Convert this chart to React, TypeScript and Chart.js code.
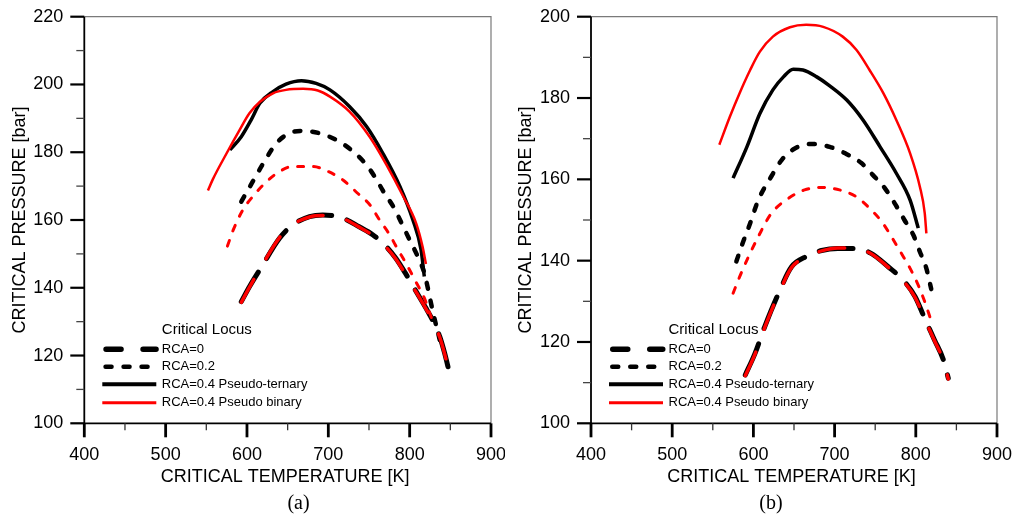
import React, { useEffect, useRef } from "react";
import { Chart, registerables } from "chart.js";
Chart.register(...registerables);

const SANS = "Arial, 'Liberation Sans', Helvetica, sans-serif";
const SERIF = "'Times New Roman', 'Liberation Serif', serif";

// ---------- Tick labels ----------
const X_TICKS = [400, 500, 600, 700, 800, 900];
const X_MINOR = [450, 550, 650, 750, 850];
const Y_TICKS_A = [100, 120, 140, 160, 180, 200, 220];
const Y_MINOR_A = [110, 130, 150, 170, 190, 210];
const Y_TICKS_B = [100, 120, 140, 160, 180, 200];
const Y_MINOR_B = [110, 130, 150, 170, 190];

const X_TITLE = "CRITICAL TEMPERATURE [K]";
const Y_TITLE = "CRITICAL PRESSURE [bar]";
const LEGEND_TITLE = "Critical Locus";
const LEGEND_LABELS = ["RCA=0", "RCA=0.2", "RCA=0.4 Pseudo-ternary", "RCA=0.4 Pseudo binary"];

// ---------- Panel (a) ----------
const A_RCA0_T = [593, 603, 618, 640, 656, 677, 693, 718, 738, 755, 769, 783, 796, 808, 820, 828, 837, 843, 849];
const A_RCA0_P = [135.9, 140.3, 146.2, 154.6, 158.5, 161, 161.5, 160.5, 158, 155.6, 152.7, 148.7, 143.8, 138.9, 134, 130.5, 125.6, 120.7, 114.8];
const A_RCA0B_T = [593, 603, 618, 640, 656, 677, 693, 718, 738, 755, 769, 783, 796, 808, 820, 828, 837, 843, 849];
const A_RCA0B_P = [135.7, 140.1, 146.4, 154.8, 158.6, 160.9, 161.3, 160.4, 157.9, 155.4, 152.5, 148.5, 143.5, 138.7, 133.8, 130.3, 125.4, 120.5, 114.6];
const A_RCA02_T = [593, 607, 620, 636, 652, 669, 689, 710, 728, 745, 757, 769, 781, 790, 800, 810, 818, 822, 828, 837];
const A_RCA02_P = [165.4, 171.3, 176.7, 182.6, 185.6, 186.3, 185.6, 183.6, 180.7, 176.8, 172.8, 167.9, 163.5, 159.1, 154.1, 149.2, 144.4, 140.3, 133.5, 124.6];
const A_RCA02B_T = [576, 583, 595, 607, 624, 640, 656, 681, 700, 718, 736, 751, 763, 775, 785, 796, 808, 818, 824, 830];
const A_RCA02B_P = [152.3, 157, 163, 166.9, 171.3, 174.3, 175.8, 175.8, 174.3, 171.8, 167.9, 164.5, 160, 155.8, 151.5, 147, 141.6, 137, 133, 129];
const A_TERN_T = [579, 593, 605, 616, 632, 648, 667, 685, 702, 726, 747, 767, 788, 804, 814, 818];
const A_TERN_P = [180.7, 184.6, 189.5, 194.5, 197.9, 200.1, 201.1, 200.3, 198.4, 193.5, 187.6, 179.7, 169.9, 160, 151.2, 143.3];
const A_BIN_T = [552, 558, 575, 591, 603, 616, 632, 648, 669, 687, 702, 726, 751, 771, 792, 808, 816, 820];
const A_BIN_P = [168.7, 172, 179.7, 186.6, 191.5, 194.9, 197.4, 198.4, 198.7, 198.2, 196.4, 192, 184.5, 176.5, 167, 159, 152, 147];

// ---------- Panel (b) ----------
const B_RCA0_T = [590, 602, 614, 631, 647, 665, 684, 704, 725, 745, 766, 784, 799, 811, 823, 834, 840];
const B_RCA0_P = [111.9, 117.2, 123.8, 132, 138.5, 141, 142.5, 143, 143, 141.8, 138.5, 135.3, 131.2, 125.8, 120.5, 115.6, 111.1];
const B_RCA0B_T = [590, 602, 614, 631, 647, 665, 684, 704, 725, 745, 766, 784, 799, 811, 823, 834, 840];
const B_RCA0B_P = [111.7, 117.0, 123.6, 131.8, 138.3, 140.9, 142.4, 143.1, 143.1, 141.7, 138.4, 135.1, 131.0, 125.6, 120.3, 115.4, 110.9];
const B_RCA02_T = [579, 586, 596, 606, 622, 635, 651, 672, 694, 713, 733, 747, 762, 774, 786, 797, 805, 813, 819];
const B_RCA02_P = [139.8, 143.9, 149.2, 154.9, 160.7, 164.8, 167.6, 168.7, 168, 166.4, 164, 161.1, 157.8, 154.1, 150, 146.3, 142.2, 138.1, 133];
const B_RCA02B_T = [575, 583, 594, 606, 622, 643, 663, 684, 706, 727, 743, 758, 770, 781, 793, 803, 811, 818];
const B_RCA02B_P = [132, 136, 141, 145.9, 151.6, 155.3, 157.4, 158, 157.4, 155.7, 152.9, 149.6, 145.9, 142.2, 138.1, 134, 129.9, 125.8];
const B_TERN_T = [575, 592, 608, 624, 637, 649, 661, 678, 694, 715, 735, 756, 776, 793, 803];
const B_TERN_P = [160.3, 168, 176.2, 182, 185.2, 187.1, 186.9, 185.2, 183, 179.5, 174.6, 168, 161.5, 154.9, 148];
const B_BIN_T = [558, 571, 583, 596, 608, 624, 645, 665, 686, 710, 727, 743, 760, 776, 793, 805, 811, 813];
const B_BIN_P = [168.5, 175.4, 181.2, 186.9, 191.4, 195.1, 197.4, 198, 197.5, 195.1, 191.8, 186.9, 181.2, 174.6, 166.4, 158.2, 151.7, 146.7];

const pts = (t: number[], p: number[]) => t.map((x, i) => ({ x, y: p[i] }));

type Style = { color: string; width: number; dash: number[]; order: number };
const ST_RCA0: Style = { color: "#000000", width: 5, dash: [34, 16], order: 5 };
const ST_RCA0B: Style = { color: "#ff0000", width: 3.5, dash: [26, 24], order: 2 };
const ST_RCA02: Style = { color: "#000000", width: 4.5, dash: [6, 12], order: 4 };
const ST_RCA02B: Style = { color: "#ff0000", width: 3, dash: [6, 10], order: 1 };
const ST_TERN: Style = { color: "#000000", width: 3.5, dash: [], order: 3 };
const ST_BIN: Style = { color: "#ff0000", width: 2.5, dash: [], order: 0 };

const LEGEND_STYLES = [
  { color: "#000000", width: 5.5, dash: [15, 22], len: 50 },
  { color: "#000000", width: 4.5, dash: [6, 12], len: 42 },
  { color: "#000000", width: 4, dash: [], len: 50 },
  { color: "#ff0000", width: 3, dash: [], len: 50 },
];

function ds(t: number[], p: number[], s: Style) {
  return {
    data: pts(t, p),
    showLine: true,
    pointRadius: 0,
    pointHoverRadius: 0,
    borderColor: s.color,
    backgroundColor: s.color,
    borderWidth: s.width,
    borderDash: s.dash,
    borderCapStyle: s.dash.length ? "round" : "butt",
    borderJoinStyle: "round",
    cubicInterpolationMode: "monotone",
    fill: false,
    order: s.order,
  } as any;
}

type PanelCfg = {
  canvasW: number;
  yWidth: number;
  rightPad: number;
  yMin: number;
  yMax: number;
  yTicks: number[];
  yMinor: number[];
  caption: string;
  captionX: number;
  yTitleX: number;
  datasets: any[];
};

const PANELS: PanelCfg[] = [
  {
    canvasW: 505, yWidth: 84.3, rightPad: 14, yMin: 100, yMax: 220,
    yTicks: Y_TICKS_A, yMinor: Y_MINOR_A, caption: "(a)", captionX: 298.5, yTitleX: 20,
    datasets: [
      ds(A_RCA0_T, A_RCA0_P, ST_RCA0), ds(A_RCA0B_T, A_RCA0B_P, ST_RCA0B),
      ds(A_RCA02_T, A_RCA02_P, ST_RCA02), ds(A_RCA02B_T, A_RCA02B_P, ST_RCA02B),
      ds(A_TERN_T, A_TERN_P, ST_TERN), ds(A_BIN_T, A_BIN_P, ST_BIN),
    ],
  },
  {
    canvasW: 512, yWidth: 86, rightPad: 20, yMin: 100, yMax: 200,
    yTicks: Y_TICKS_B, yMinor: Y_MINOR_B, caption: "(b)", captionX: 266, yTitleX: 21,
    datasets: [
      ds(B_RCA0_T, B_RCA0_P, ST_RCA0), ds(B_RCA0B_T, B_RCA0B_P, ST_RCA0B),
      ds(B_RCA02_T, B_RCA02_P, ST_RCA02), ds(B_RCA02B_T, B_RCA02B_P, ST_RCA02B),
      ds(B_TERN_T, B_TERN_P, ST_TERN), ds(B_BIN_T, B_BIN_P, ST_BIN),
    ],
  },
];

const H = 515;
const TOP = 16.7;
const BOTTOM = 423.3;

function zeroPad(s: any) {
  s.paddingTop = 0;
  s.paddingBottom = 0;
  s.paddingLeft = 0;
  s.paddingRight = 0;
}

function makeDecor(cfg: PanelCfg) {
  return {
    id: "decor",
    afterDraw(chart: any) {
      const ctx: CanvasRenderingContext2D = chart.ctx;
      const a = chart.chartArea;
      const xs = chart.scales.x;
      const ys = chart.scales.y;
      ctx.save();
      // frame
      ctx.strokeStyle = "#7a7a7a";
      ctx.lineWidth = 1.2;
      ctx.beginPath();
      ctx.moveTo(a.left, a.top);
      ctx.lineTo(a.right, a.top);
      ctx.lineTo(a.right, a.bottom);
      ctx.stroke();
      ctx.strokeStyle = "#000";
      ctx.lineWidth = 1.8;
      ctx.beginPath();
      ctx.moveTo(a.left, a.top);
      ctx.lineTo(a.left, a.bottom);
      ctx.lineTo(a.right, a.bottom);
      ctx.stroke();
      // ticks
      ctx.lineCap = "butt";
      X_TICKS.forEach((v) => {
        const px = xs.getPixelForValue(v);
        ctx.lineWidth = 2.8;
        ctx.strokeStyle = "#000";
        ctx.beginPath();
        ctx.moveTo(px, a.bottom);
        ctx.lineTo(px, a.bottom + 14);
        ctx.stroke();
      });
      X_MINOR.forEach((v) => {
        const px = xs.getPixelForValue(v);
        ctx.lineWidth = 1.3;
        ctx.strokeStyle = "#333";
        ctx.beginPath();
        ctx.moveTo(px, a.bottom);
        ctx.lineTo(px, a.bottom + 7);
        ctx.stroke();
      });
      cfg.yTicks.forEach((v) => {
        const py = ys.getPixelForValue(v);
        ctx.lineWidth = 2.2;
        ctx.strokeStyle = "#000";
        ctx.beginPath();
        ctx.moveTo(a.left - 14, py);
        ctx.lineTo(a.left, py);
        ctx.stroke();
      });
      cfg.yMinor.forEach((v) => {
        const py = ys.getPixelForValue(v);
        ctx.lineWidth = 1.3;
        ctx.strokeStyle = "#444";
        ctx.beginPath();
        ctx.moveTo(a.left - 8, py);
        ctx.lineTo(a.left, py);
        ctx.stroke();
      });
      // axis titles
      ctx.fillStyle = "#000";
      ctx.font = `18px ${SANS}`;
      ctx.textAlign = "center";
      ctx.textBaseline = "middle";
      ctx.fillText(X_TITLE, (a.left + a.right) / 2 - 2.5, a.bottom + 53.7);
      ctx.save();
      ctx.translate(cfg.yTitleX, (a.top + a.bottom) / 2);
      ctx.rotate(-Math.PI / 2);
      ctx.fillText(Y_TITLE, 0, 0);
      ctx.restore();
      // caption
      ctx.font = `20px ${SERIF}`;
      ctx.fillText(cfg.caption, cfg.captionX, 504);
      // legend
      const lx0 = a.left + 19;
      const tx = a.left + 77.5;
      ctx.textAlign = "left";
      ctx.font = `15px ${SANS}`;
      ctx.fillText(LEGEND_TITLE, tx, a.top + 313.3);
      const rows = [332.6, 350, 367.6, 386];
      ctx.font = `13px ${SANS}`;
      LEGEND_LABELS.forEach((lab, i) => {
        const st = LEGEND_STYLES[i];
        const y = a.top + rows[i];
        ctx.save();
        ctx.strokeStyle = st.color;
        ctx.lineWidth = st.width;
        ctx.setLineDash(st.dash);
        ctx.lineCap = st.dash.length ? "round" : "butt";
        ctx.beginPath();
        const s = st.dash.length ? lx0 + st.width / 2 : lx0 - 1;
        ctx.moveTo(s, y);
        ctx.lineTo(st.dash.length ? s + st.len : lx0 + 53, y);
        ctx.stroke();
        ctx.restore();
        ctx.fillStyle = "#000";
        ctx.fillText(lab, tx, y);
      });
      ctx.restore();
    },
  };
}

function Panel({ cfg, left }: { cfg: PanelCfg; left: number }) {
  const ref = useRef<HTMLCanvasElement | null>(null);
  useEffect(() => {
    if (!ref.current) return;
    const chart = new Chart(ref.current, {
      type: "scatter",
      data: { datasets: cfg.datasets },
      options: {
        animation: false,
        responsive: false,
        maintainAspectRatio: false,
        events: [],
        layout: { padding: { top: TOP, right: cfg.rightPad, left: 0, bottom: 0 }, autoPadding: false } as any,
        plugins: { legend: { display: false }, tooltip: { enabled: false } },
        scales: {
          x: {
            type: "linear",
            min: 400,
            max: 900,
            grid: { display: false, drawTicks: false },
            border: { display: false },
            ticks: { font: { family: SANS, size: 18 }, color: "#000", padding: 21, maxRotation: 0, autoSkip: false },
            afterBuildTicks: (s: any) => { s.ticks = X_TICKS.map((v) => ({ value: v })); },
            afterFit: (s: any) => { s.height = H - BOTTOM; zeroPad(s); },
          },
          y: {
            type: "linear",
            min: cfg.yMin,
            max: cfg.yMax,
            grid: { display: false, drawTicks: false },
            border: { display: false },
            ticks: { font: { family: SANS, size: 18 }, color: "#000", padding: 21, autoSkip: false },
            afterBuildTicks: (s: any) => { s.ticks = cfg.yTicks.map((v) => ({ value: v })); },
            afterFit: (s: any) => { s.width = cfg.yWidth; zeroPad(s); },
          },
        },
      },
      plugins: [makeDecor(cfg) as any],
    });
    return () => chart.destroy();
  }, [cfg]);
  return (
    <canvas
      ref={ref}
      width={cfg.canvasW}
      height={H}
      style={{ position: "absolute", left, top: 0, width: cfg.canvasW, height: H }}
    />
  );
}

export default function App() {
  return (
    <div style={{ position: "absolute", left: 0, top: 0, width: 1017, height: 515, background: "#fff", overflow: "hidden" }}>
      <Panel cfg={PANELS[0]} left={0} />
      <Panel cfg={PANELS[1]} left={505} />
    </div>
  );
}
